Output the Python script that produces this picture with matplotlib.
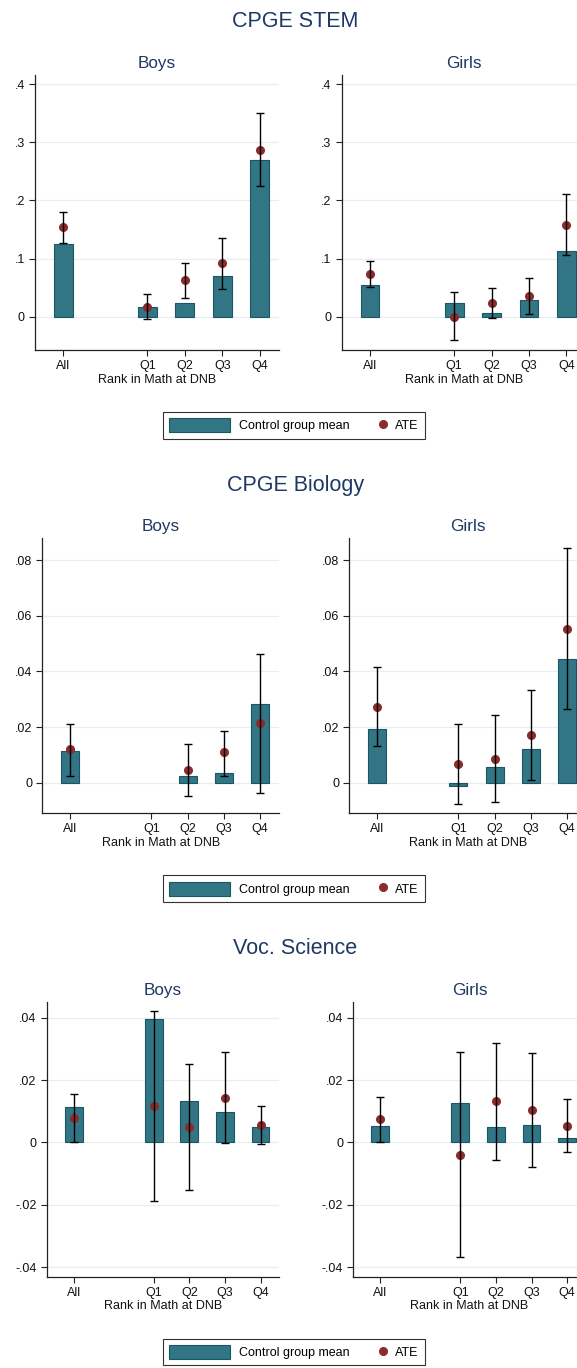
"""
plot.py -- Control group means and ATE by rank in Math at DNB (CPGE STEM,
CPGE Biology, Voc. Science), boys vs girls.
"""

import numpy as np
import matplotlib
matplotlib.use("Agg")
import matplotlib.pyplot as plt
from matplotlib.patches import Patch
from matplotlib.lines import Line2D
from matplotlib.legend_handler import HandlerLine2D
from matplotlib.ticker import FuncFormatter

plt.rcParams["font.family"] = ["Liberation Sans", "DejaVu Sans"]

# ── data ─────────────────────────────────────────────────────────────────────

groups = ["All", "Q1", "Q2", "Q3", "Q4"]
nan = np.nan

stem_boys_ctrl = [0.1255, 0.0172, 0.0240, 0.0693, 0.2693]
stem_boys_ate = [0.1536, 0.0170, 0.0625, 0.0923, 0.2865]
stem_boys_lo = [0.1266, -0.0046, 0.0320, 0.0481, 0.2246]
stem_boys_hi = [0.1800, 0.0390, 0.0928, 0.1358, 0.3496]

stem_girls_ctrl = [0.0539, 0.0229, 0.0063, 0.0292, 0.1129]
stem_girls_ate = [0.0733, 0.0000, 0.0235, 0.0361, 0.1580]
stem_girls_lo = [0.0510, -0.0401, -0.0023, 0.0046, 0.1054]
stem_girls_hi = [0.0957, 0.0418, 0.0493, 0.0670, 0.2115]

bio_boys_ctrl = [0.0114, nan, 0.0026, 0.0035, 0.0285]
bio_boys_ate = [0.0121, nan, 0.0048, 0.0110, 0.0215]
bio_boys_lo = [0.0026, nan, -0.0048, 0.0025, -0.0036]
bio_boys_hi = [0.0213, nan, 0.0141, 0.0188, 0.0464]

bio_girls_ctrl = [0.0193, -0.0010, 0.0057, 0.0122, 0.0444]
bio_girls_ate = [0.0274, 0.0068, 0.0087, 0.0171, 0.0554]
bio_girls_lo = [0.0132, -0.0074, -0.0068, 0.0010, 0.0266]
bio_girls_hi = [0.0417, 0.0213, 0.0243, 0.0334, 0.0844]

voc_boys_ctrl = [0.0113, 0.0397, 0.0132, 0.0098, 0.0048]
voc_boys_ate = [0.0078, 0.0117, 0.0050, 0.0144, 0.0057]
voc_boys_lo = [0.0002, -0.0186, -0.0152, -0.0002, -0.0005]
voc_boys_hi = [0.0154, 0.0420, 0.0252, 0.0289, 0.0117]

voc_girls_ctrl = [0.0054, 0.0126, 0.0049, 0.0057, 0.0015]
voc_girls_ate = [0.0076, -0.0040, 0.0132, 0.0104, 0.0052]
voc_girls_lo = [0.0003, -0.0368, -0.0056, -0.0078, -0.0031]
voc_girls_hi = [0.0146, 0.0290, 0.0320, 0.0287, 0.0138]

stem_ticks = [0, 0.1, 0.2, 0.3, 0.4]
bio_ticks = [0, 0.02, 0.04, 0.06, 0.08]
voc_ticks = [-0.04, -0.02, 0, 0.02, 0.04]

# ── style ────────────────────────────────────────────────────────────────────

BAR_COLOR = "#327584"
BAR_EDGE = "#1b5666"
DOT_COLOR = "#8b2b2e"
TITLE_COLOR = "#1f3864"
AXIS_COLOR = "#222222"
GRID_COLOR = "#e6eef0"

W, H = 577, 1368
x_pos = np.r_[1.0, np.arange(4) + 3.25]


def stata_fmt(v, _pos=None):
    s = f"{v:g}"
    if s.startswith("0."):
        s = s[1:]
    elif s.startswith("-0."):
        s = "-" + s[2:]
    return s


def px_axes(fig, left, top, right, bottom):
    return fig.add_axes([left / W, 1 - bottom / H, (right - left) / W, (bottom - top) / H])


def draw_panel(ax, title, ctrl, ate, lo, hi, ticks, ylim):
    ctrl, ate = np.asarray(ctrl), np.asarray(ate)
    lo, hi = np.asarray(lo), np.asarray(hi)
    ax.bar(x_pos, ctrl, width=0.5, color=BAR_COLOR, edgecolor=BAR_EDGE,
           linewidth=0.8, zorder=2)
    ax.plot(x_pos, ate, "o", color=DOT_COLOR, ms=5.5, zorder=3)
    ok = ~np.isnan(lo)
    mid = (lo + hi) / 2
    ax.errorbar(x_pos[ok], mid[ok], yerr=(hi - lo)[ok] / 2, fmt="none",
                ecolor="black", elinewidth=1.0, capsize=3, capthick=1.0, zorder=4)

    ax.set_xlim(0.24, 6.77)
    ax.set_ylim(*ylim)
    ax.set_xticks(x_pos)
    ax.set_xticklabels(groups)
    ax.set_yticks(ticks)
    ax.yaxis.set_major_formatter(FuncFormatter(stata_fmt))
    ax.yaxis.grid(True, color=GRID_COLOR, lw=0.9)
    ax.set_axisbelow(True)
    for side in ("top", "right"):
        ax.spines[side].set_visible(False)
    for side in ("left", "bottom"):
        ax.spines[side].set_color(AXIS_COLOR)
        ax.spines[side].set_linewidth(0.9)
    ax.tick_params(direction="out", length=4.3, width=0.8, color=AXIS_COLOR,
                   labelsize=9, labelcolor="#111111", pad=3)
    ax.set_xlabel("Rank in Math at DNB", fontsize=9, color="#111111", labelpad=1)
    ax.set_title(title, fontsize=12.3, color=TITLE_COLOR, pad=5)


class DotRight(HandlerLine2D):
    """Legend handler that puts the marker near the right end of the handle box."""

    def get_xdata(self, legend, xdescent, ydescent, width, height, fontsize):
        xd = np.array([-xdescent + width - 0.27 * fontsize])
        return xd, xd


def add_legend(fig, top_px):
    handles = [
        Patch(facecolor=BAR_COLOR, edgecolor=BAR_EDGE, linewidth=0.8),
        Line2D([], [], marker="o", ls="none", color=DOT_COLOR, ms=5.5),
    ]
    leg = fig.legend(handles, ["Control group mean", "ATE"], ncol=2,
                     loc="upper left", bbox_to_anchor=(162.5 / W, 1 - top_px / H),
                     bbox_transform=fig.transFigure, borderaxespad=0,
                     fontsize=9, handlelength=4.9, handleheight=1.36,
                     borderpad=0.5, handletextpad=0.72, columnspacing=-2.0,
                     fancybox=False, framealpha=1,
                     handler_map={handles[1]: DotRight()})
    leg.get_frame().set_edgecolor("#333333")
    leg.get_frame().set_linewidth(0.8)


# ── figure ───────────────────────────────────────────────────────────────────

fig = plt.figure(figsize=(W / 100, H / 100), dpi=100)

rows = [
    ("CPGE STEM", 75.0, 350.0, (35.0, 341.7),
     (stem_boys_ctrl, stem_boys_ate, stem_boys_lo, stem_boys_hi),
     (stem_girls_ctrl, stem_girls_ate, stem_girls_lo, stem_girls_hi),
     stem_ticks, (-0.0572, 0.4155)),
    ("CPGE Biology", 538.3, 813.3, (42.3, 349.3),
     (bio_boys_ctrl, bio_boys_ate, bio_boys_lo, bio_boys_hi),
     (bio_girls_ctrl, bio_girls_ate, bio_girls_lo, bio_girls_hi),
     bio_ticks, (-0.0109, 0.0878)),
    ("Voc. Science", 1001.7, 1276.7, (46.7, 353.3),
     (voc_boys_ctrl, voc_boys_ate, voc_boys_lo, voc_boys_hi),
     (voc_girls_ctrl, voc_girls_ate, voc_girls_lo, voc_girls_hi),
     voc_ticks, (-0.0430, 0.0451)),
]

for name, top, bottom, (left_b, left_g), boys, girls, ticks, ylim in rows:
    ax_b = px_axes(fig, left_b, top, 279.0, bottom)
    draw_panel(ax_b, "Boys", *boys, ticks, ylim)
    ax_g = px_axes(fig, left_g, top, left_g + (279.0 - left_b), bottom)
    draw_panel(ax_g, "Girls", *girls, ticks, ylim)
    fig.text(295.5 / W, 1 - (top - 47.6) / H, name, ha="center", va="baseline",
             fontsize=15.5, color=TITLE_COLOR)
    add_legend(fig, bottom + 62.0)

fig.savefig("out.png", dpi=100)
